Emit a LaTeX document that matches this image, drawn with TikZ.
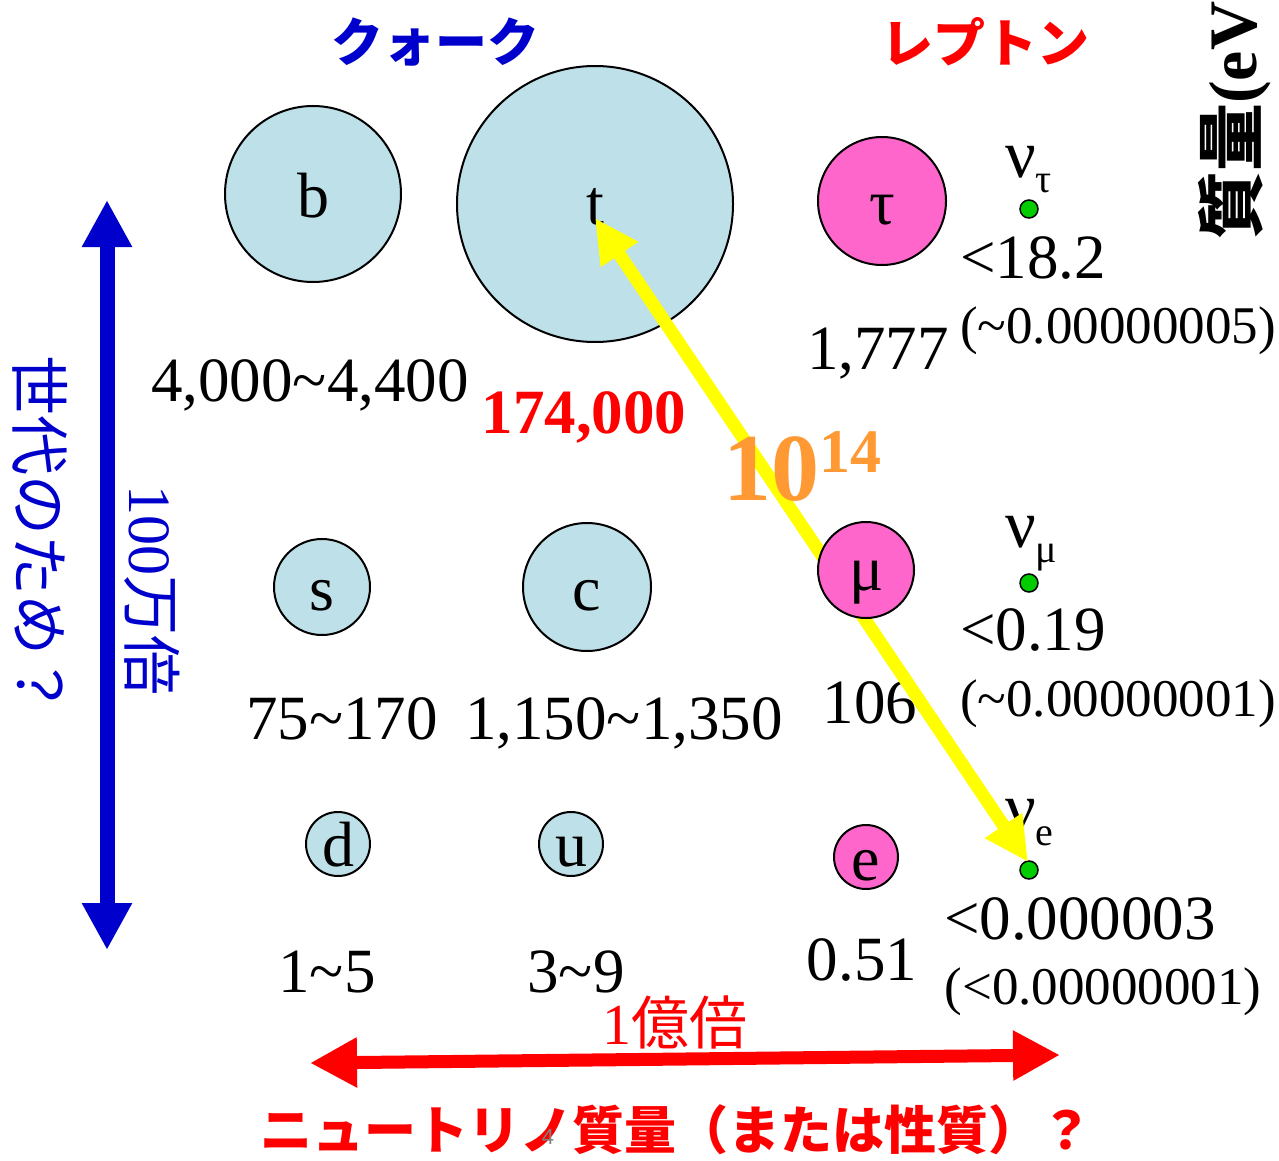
\documentclass[tikz,border=0pt]{standalone}
\usepackage{fontspec}
\setmainfont{Liberation Serif}
\newfontfamily\jp{Noto Sans CJK JP}
\newfontfamily\sfnt{Liberation Sans}
\usetikzlibrary{arrows.meta}
\definecolor{qblue}{RGB}{190,224,232}
\definecolor{lpink}{RGB}{255,102,204}
\definecolor{tblue}{RGB}{0,0,204}
\definecolor{ngreen}{RGB}{0,204,0}
\definecolor{yarrow}{RGB}{255,255,0}
\definecolor{orng}{RGB}{255,153,51}
\newcommand\myfs[1]{\fontsize{#1}{#1}\selectfont}
\begin{document}
\begin{tikzpicture}[x=1pt,y=-1pt,
  quark/.style={circle, draw=black, line width=2pt, fill=qblue, inner sep=0pt, minimum size=#1},
  lepton/.style={circle, draw=black, line width=2pt, fill=lpink, inner sep=0pt, minimum size=#1},
  nudot/.style={circle, draw=black, line width=1.5pt, fill=ngreen, inner sep=0pt, minimum size=18pt},
  letter/.style={font=\myfs{64}, inner sep=0pt, anchor=base},
  mass/.style={font=\myfs{63}, inner sep=0pt, anchor=base},
  smallmass/.style={font=\myfs{53}, inner sep=0pt, anchor=base},
  nulabel/.style={font=\myfs{68}, inner sep=0pt, anchor=base west},
  jptitle/.style={font=\jp\bfseries\myfs{52}, inner sep=0pt},
  bigarrow/.style={line width=#1},
]
\useasboundingbox (0,0) rectangle (1279,1161);
\fill[white] (0,0) rectangle (1279,1161);

% titles
\node[jptitle, text=tblue] (quarkt) at (435,42) {クォーク};
\node[jptitle, text=red] (leptont) at (985,42) {レプトン};
\node[font=\myfs{68}, rotate=90, anchor=west, inner sep=0pt] (massaxis) at (1235,240) {{\jp\bfseries 質量}\textbf{(eV)}};

% left generation arrow
\coordinate (btop) at (107,200);
\coordinate (bbot) at (107,950);
\draw[bigarrow=15pt, tblue, {Triangle[length=47pt,width=47pt]}-{Triangle[length=47pt,width=47pt]}] (btop) -- (bbot);
\node[font=\jp\myfs{60}, text=tblue, rotate=-90, anchor=west, inner sep=0pt] (gen) at (40,355) {世代のため？};
\node[font=\myfs{60}, text=tblue, rotate=-90, anchor=west, inner sep=0pt] (mil) at (152,485) {100{\jp 万倍}};

% third generation
\node[quark=176pt] (b) at (313,194) {};
\node[letter] (bl) at (313,218) {b};
\node[quark=276pt] (t) at (595,204) {};
\node[letter] (tl) at (595,224) {t};
\node[lepton=128pt] (tau) at (882,201) {};
\node[letter] (taul) at (882,225) {τ};
\node[nudot] (nut) at (1029,209) {};
\node[nulabel] (nutl) at (1005,178) {ν\raisebox{-15pt}{\myfs{40}τ}};

\node[mass] (mb) at (310,401) {4,000\char`~4,400};
\node[mass, font=\bfseries\myfs{63}, text=red] (mt) at (584,433) {174,000};
\node[mass] (mtau) at (878,369) {1,777};
\node[mass] (mnut) at (1033,278) {<18.2};
\node[smallmass] (mnut2) at (1118,343) {(\char`~0.00000005)};

% second generation
\node[quark=96pt] (s) at (322,587) {};
\node[letter] (sl) at (322,610) {s};
\node[quark=128pt] (c) at (587,587) {};
\node[letter] (cl) at (587,610) {c};
\node[nudot] (num) at (1029,583) {};
\node[nulabel] (numl) at (1005,547) {ν\raisebox{-15pt}{\myfs{40}μ}};

\node[mass] (ms) at (342,739) {75\char`~170};
\node[mass] (mc) at (624,739) {1,150\char`~1,350};
\node[mass] (mmu) at (870,723) {106};
\node[mass] (mnum) at (1033,650) {<0.19};
\node[smallmass] (mnum2) at (1118,716) {(\char`~0.00000001)};

% first generation
\node[quark=64pt] (d) at (338,844) {};
\node[letter] (dl) at (338,866) {d};
\node[quark=64pt] (u) at (571,844) {};
\node[letter] (ul) at (571,866) {u};
\node[lepton=64pt] (e) at (866,857) {};
\node[letter] (el) at (866,880) {e};
\node[nudot] (nue) at (1029,870) {};
\node[nulabel] (nuel) at (1005,830) {ν\raisebox{-15pt}{\myfs{40}e}};

\node[mass] (md) at (327,992) {1\char`~5};
\node[mass] (mu) at (576,992) {3\char`~9};
\node[mass] (me) at (862,980) {0.51};
\node[mass] (mnue) at (1080,939) {<0.000003};
\node[smallmass] (mnue2) at (1103,1004) {(<0.00000001)};

% yellow arrow t <-> nu_e
\coordinate (ytop) at (595,218);
\coordinate (ybot) at (1028,862);
\draw[bigarrow=13pt, yarrow, {Triangle[length=44pt,width=42pt]}-{Triangle[length=44pt,width=42pt]}] (ytop) -- (ybot);

% muon drawn above arrow
\node[lepton=96pt] (mu) at (866,570) {};
\node[letter] (mul) at (867,590) {μ};

\node[font=\bfseries\myfs{96}, text=orng, anchor=base west, inner sep=0pt] (ten) at (723,500) {10\raisebox{28pt}{\myfs{62}14}};

% bottom arrow
\node[font=\myfs{58}, text=red, inner sep=0pt] (oku) at (675,1022) {1{\jp 億倍}};
\coordinate (rleft) at (310,1063);
\coordinate (rright) at (1060,1055);
\draw[bigarrow=13pt, red, {Triangle[length=47pt,width=47pt]}-{Triangle[length=47pt,width=47pt]}] (rleft) -- (rright);
\node[jptitle, text=red] (question) at (676,1130) {ニュートリノ質量（または性質）？};
\node[font=\sfnt\myfs{22}, text=gray, inner sep=0pt] (pg) at (548,1137) {4};
\end{tikzpicture}
\end{document}
